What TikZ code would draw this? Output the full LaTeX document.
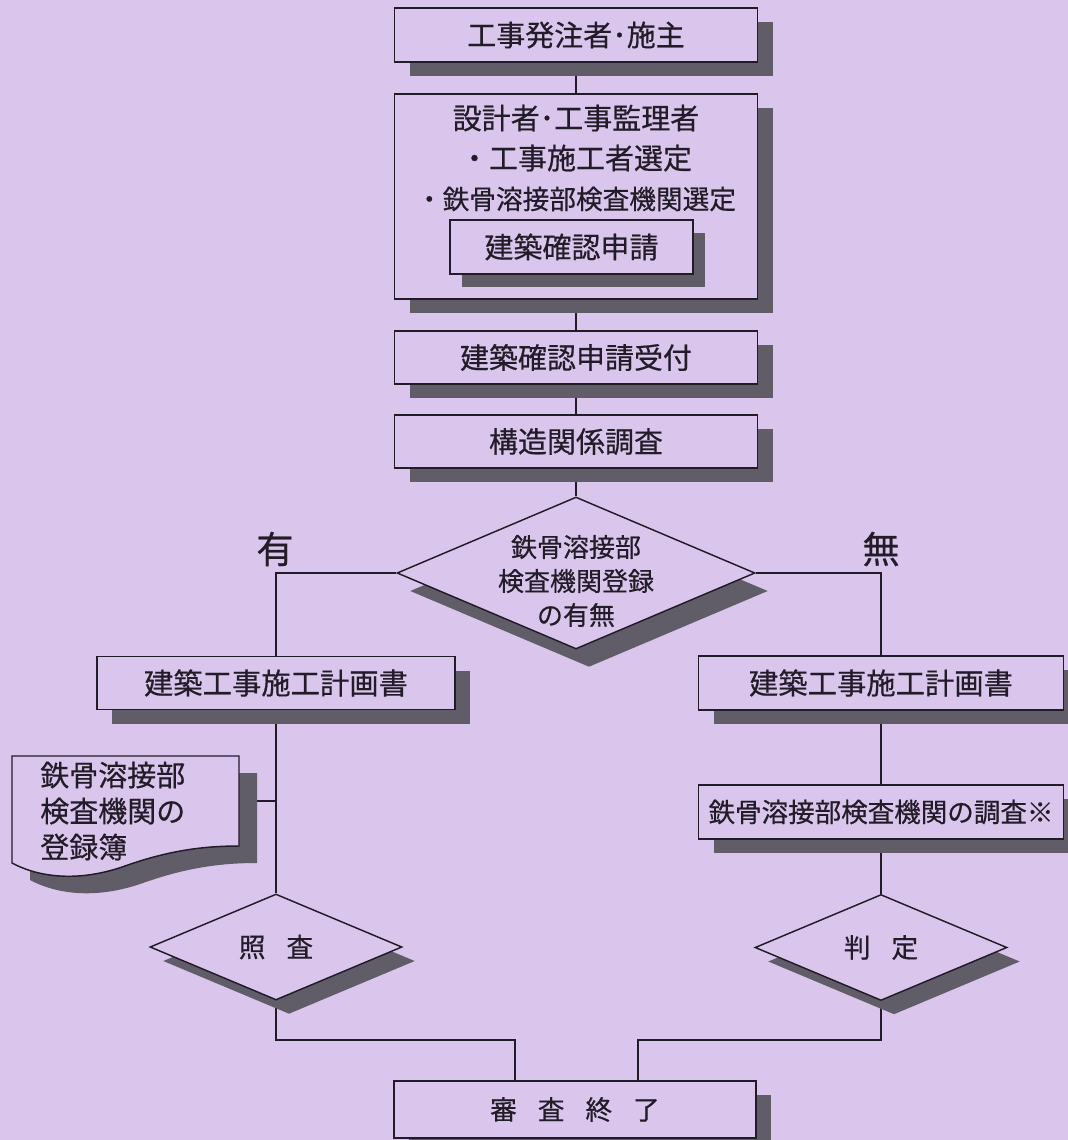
\documentclass[tikz,border=0pt]{standalone}
\usepackage{fontspec}
\newfontfamily\jp{Noto Sans CJK JP}[FakeBold=0.5]
\usetikzlibrary{shapes.geometric,shadows}
\definecolor{bgc}{RGB}{218,198,236}
\definecolor{shd}{RGB}{96,92,104}
\definecolor{ink}{RGB}{34,28,40}
\pgfdeclarelayer{back}
\pgfsetlayers{back,main}
\tikzset{
  box/.style={rectangle, draw=ink, fill=bgc, line width=1.1pt, inner sep=0pt, text=ink,
    drop shadow={shadow xshift=11.25pt, shadow yshift=-10.5pt, fill=shd, opacity=1}},
  bigdia/.style={diamond, draw=ink, fill=bgc, line width=1.1pt, inner sep=0pt,
    minimum width=268.5pt, minimum height=114pt,
    drop shadow={shadow xshift=9.75pt, shadow yshift=-13.5pt, fill=shd, opacity=1}},
  smalldia/.style={diamond, draw=ink, fill=bgc, line width=1.1pt, inner sep=0pt,
    minimum width=189pt, minimum height=79.5pt,
    drop shadow={shadow xshift=9.75pt, shadow yshift=-10.5pt, fill=shd, opacity=1}},
  txt/.style={text=ink, inner sep=0pt, align=center},
  conn/.style={draw=ink, line width=1.1pt},
  wbox/.style={box, minimum width=272.25pt, minimum height=40.5pt},
  fa/.style={font=\jp\fontsize{21.75pt}{26pt}\selectfont},
}
\begin{document}
\begin{tikzpicture}[x=0.75pt,y=-0.75pt]
\useasboundingbox (0,0) rectangle (1068,1140);
\clip (0,0) rectangle (1068,1140);
\begin{pgfonlayer}{back}
\fill[bgc] (0,0) rectangle (1068,1140);
\end{pgfonlayer}

% main column
\node[wbox, fa] (n1) at (576,35) {工事発注者･施主};
\node[box, minimum width=272.25pt, minimum height=153.75pt] (n2) at (576,196.5) {};
\node[txt, font=\jp\fontsize{21.75pt}{30pt}\selectfont] (n2t) at (576,158)
  {設計者･工事監理者\\・工事施工者選定\\{\fontsize{20pt}{30pt}\selectfont ・鉄骨溶接部検査機関選定}};
\node[rectangle, draw=ink, fill=bgc, line width=1.1pt, inner sep=0pt, text=ink,
  minimum width=182.25pt, minimum height=40.5pt, fa,
  drop shadow={shadow xshift=9pt, shadow yshift=-9.75pt, fill=shd, opacity=1}] (inb) at (571.5,247) {建築確認申請};
\node[wbox, fa, minimum height=39.75pt] (n3) at (576,357.5) {建築確認申請受付};
\node[wbox, fa, minimum height=39.75pt] (n4) at (576,441.5) {構造関係調査};

\node[bigdia] (d1) at (576,573) {};
\node[txt, font=\jp\fontsize{19.5pt}{25.5pt}\selectfont] (d1t) at (576,581) {鉄骨溶接部\\検査機関登録\\の有無};

\node[txt, font=\jp\fontsize{28pt}{32pt}\selectfont] (yes) at (275,549) {有};
\node[txt, font=\jp\fontsize{28pt}{32pt}\selectfont] (no) at (881,549) {無};

% left column
\node[box, font=\jp\fontsize{22pt}{26pt}\selectfont, minimum width=268.5pt, minimum height=39.75pt] (lb) at (276,683) {建築工事施工計画書};

\fill[shd, shift={(18,17)}] (12,756) -- (239,756) -- (239,846)
  .. controls (205,846) and (170,850) .. (125,866)
  .. controls (80,882) and (40,878) .. (12,863) -- cycle;
\filldraw[fill=bgc, draw=ink, line width=1.1pt] (12,756) -- (239,756) -- (239,846)
  .. controls (205,846) and (170,850) .. (125,866)
  .. controls (80,882) and (40,878) .. (12,863) -- cycle;
\coordinate (docE) at (239,801);
\node[txt, align=left, anchor=west, font=\jp\fontsize{21.75pt}{27pt}\selectfont] (doct) at (40,811) {鉄骨溶接部\\検査機関の\\登録簿};

\node[smalldia] (sh) at (276,947) {};
\node[txt, font=\jp\fontsize{20pt}{24pt}\selectfont] (sht) at (276,947) {照\hspace{15.75pt}査};

% right column
\node[box, font=\jp\fontsize{22pt}{26pt}\selectfont, minimum width=273.75pt, minimum height=40.5pt] (rb) at (881,683) {建築工事施工計画書};
\node[box, font=\jp\fontsize{19.9pt}{24pt}\selectfont, minimum width=273.75pt, minimum height=40.5pt] (rb2) at (881,812) {鉄骨溶接部検査機関の調査※};
\node[smalldia] (jd) at (881,947.5) {};
\node[txt, font=\jp\fontsize{20pt}{24pt}\selectfont] (jdt) at (881,947.5) {判\hspace{15.75pt}定};

% final
\node[box, font=\jp\fontsize{20pt}{24pt}\selectfont, minimum width=271.5pt, minimum height=42.75pt] (fin) at (575,1109.5) {審\hspace{15.75pt}査\hspace{15.75pt}終\hspace{15.75pt}了};

\coordinate (j1) at (515,1040);
\coordinate (j2) at (638,1040);

\begin{pgfonlayer}{back}
\draw[conn] (n1.south) -- (n2.north);
\draw[conn] (n2.south) -- (n3.north);
\draw[conn] (n3.south) -- (n4.north);
\draw[conn] (n4.south) -- (d1.north);
\draw[conn] (d1.west) -| (lb.north);
\draw[conn] (d1.east) -| (rb.north);
\draw[conn] (lb.south) -- (sh.north);
\draw[conn] (docE) -- (docE -| lb.south);
\draw[conn] (rb.south) -- (rb2.north);
\draw[conn] (rb2.south) -- (jd.north);
\draw[conn] (sh.south) |- (j1) -- (j1 |- fin.north);
\draw[conn] (jd.south) |- (j2) -- (j2 |- fin.north);
\end{pgfonlayer}
\end{tikzpicture}
\end{document}
